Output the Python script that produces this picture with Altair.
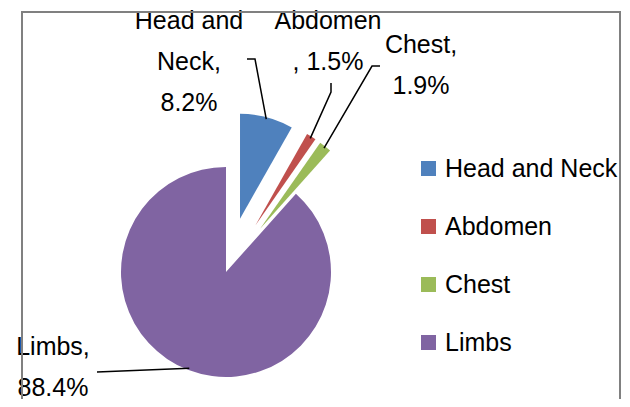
import math
import altair as alt
import pandas as pd

# ---- data ----
categories = ["Head and Neck", "Abdomen", "Chest", "Limbs"]
values = [8.2, 1.5, 1.9, 88.4]
colors = ["#4F81BD", "#C0504D", "#9BBB59", "#8064A2"]

# ---- layout / style ----
W, H = 614, 391
CX, CY, R = 218, 264, 105
explode = {"Head and Neck": 55, "Abdomen": 55, "Chest": 55, "Limbs": 0}
line_breaks = {"Head and Neck": [8, 14], "Abdomen": [7], "Chest": [6], "Limbs": [6]}
label_anchor = {"Head and Neck": (181, 21), "Abdomen": (320, 21),
                "Chest": (413, 45), "Limbs": (45, 347)}
leader_start = {"Head and Neck": [(239, 51), (247, 51)],
                "Abdomen": [(323, 75), (323, 84)],
                "Chest": [(372, 58), (364, 58)],
                "Limbs": [(89, 364)]}
FONT = "Liberation Sans"

total = sum(values)
rows, label_rows, line_rows = [], [], []
acc = 0.0
for cat, v in zip(categories, values):
    s, e = acc / total, (acc + v) / total
    acc += v
    mid = (s + e) / 2 * 2 * math.pi
    d = explode[cat]
    cx = CX + d * math.sin(mid)
    cy = CY - d * math.cos(mid)
    rows.append({"category": cat, "value": v, "start": s, "end": e, "cx": cx, "cy": cy})
    # label text
    full = f"{cat}, {v}%"
    parts, prev = [], 0
    for b in line_breaks[cat]:
        parts.append(full[prev:b].strip())
        prev = b
    parts.append(full[prev:].strip())
    ax, ay = label_anchor[cat]
    label_rows.append({"category": cat, "text": "\n".join(parts), "x": ax, "y": ay})
    # leader line
    pts = list(leader_start[cat]) + [(cx + (R - 2) * math.sin(mid), cy - (R - 2) * math.cos(mid))]
    for i, (px, py) in enumerate(pts):
        line_rows.append({"category": cat, "i": i, "x": px, "y": py})

df = pd.DataFrame(rows)
labels = pd.DataFrame(label_rows)
lines = pd.DataFrame(line_rows)

pie = alt.Chart(df).mark_arc(radius=R, stroke=None).encode(
    theta=alt.Theta("start:Q", stack=None,
                    scale=alt.Scale(domain=[0, 1], range=[0, 2 * math.pi])),
    theta2="end:Q",
    x=alt.X("cx:Q", scale=None, axis=None),
    y=alt.Y("cy:Q", scale=None, axis=None),
    color=alt.Color(
        "category:N",
        scale=alt.Scale(domain=categories, range=colors),
        sort=categories,
        legend=alt.Legend(
            title=None, orient="none", legendX=408, legendY=148,
            symbolType="square", symbolSize=225, symbolStrokeWidth=0,
            labelFont=FONT, labelFontSize=25, labelColor="black",
            labelOffset=4, rowPadding=32, labelLimit=400, padding=0,
        ),
    ),
)

leaders = alt.Chart(lines).mark_line(color="black", strokeWidth=1.5).encode(
    x=alt.X("x:Q", scale=None, axis=None),
    y=alt.Y("y:Q", scale=None, axis=None),
    detail="category:N",
    order="i:Q",
)

texts = alt.Chart(labels).mark_text(
    align="center", baseline="alphabetic", lineBreak="\n", lineHeight=41,
    font=FONT, fontSize=25, color="black",
).encode(
    x=alt.X("x:Q", scale=None, axis=None),
    y=alt.Y("y:Q", scale=None, axis=None),
    text="text:N",
)

frame_color = "#808080"
frame_left = alt.Chart(df).mark_rule(color=frame_color, strokeWidth=2).encode(
    x=alt.value(14), y=alt.value(4), y2=alt.value(H))
frame_top = alt.Chart(df).mark_rule(color=frame_color, strokeWidth=2).encode(
    x=alt.value(13), x2=alt.value(613), y=alt.value(4))
frame_right = alt.Chart(df).mark_rule(color=frame_color, strokeWidth=2).encode(
    x=alt.value(612), y=alt.value(4), y2=alt.value(H))

chart = alt.layer(pie, leaders, texts, frame_left, frame_top, frame_right).properties(
    width=W, height=H, padding=0, autosize=alt.AutoSizeParams(type="none"),
    background="white",
).configure_view(stroke=None)

chart.save("out.html", embed_options={"renderer": "svg", "actions": False})
